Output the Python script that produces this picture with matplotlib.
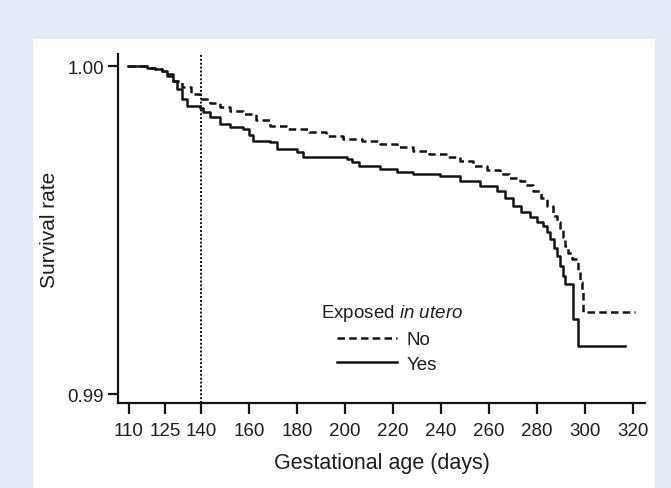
import matplotlib
matplotlib.use("Agg")
import matplotlib.pyplot as plt
from matplotlib.patches import Rectangle
from matplotlib.lines import Line2D

plt.rcParams['font.family'] = ['Liberation Sans', 'DejaVu Sans']
plt.rcParams['mathtext.fontset'] = 'custom'
plt.rcParams['mathtext.rm'] = 'Liberation Sans'
plt.rcParams['mathtext.it'] = 'Liberation Sans:italic'

# ---- data ----
days_yes = [109.6, 117.4, 121, 123.7, 126, 128.3, 130, 132, 134, 139.6, 141, 143.8,
            147.9, 152, 157.6, 160, 161.8, 168.75, 171.5, 179.9, 182.6, 200.7, 203,
            206, 214.6, 221.5, 228.5, 239.6, 247.9, 256.25, 263.2, 266.5, 270.1,
            273.5, 277.1, 280, 282.6, 284, 285.4, 287, 288.2, 289.5, 291, 291.7,
            295.1, 297.2, 316.7]
surv_yes = [1.0, 0.99994, 0.99990, 0.99986, 0.99975, 0.99955, 0.99930, 0.99900,
            0.99879, 0.99871, 0.99860, 0.99844, 0.99823, 0.99815, 0.99808, 0.99790,
            0.99772, 0.99767, 0.99747, 0.99737, 0.99722, 0.99716, 0.99706, 0.99696,
            0.99686, 0.99676, 0.99671, 0.99666, 0.99650, 0.99635, 0.99620, 0.99598,
            0.99574, 0.99556, 0.99539, 0.99525, 0.99513, 0.99495, 0.99473, 0.99445,
            0.99421, 0.99390, 0.99360, 0.99335, 0.99229, 0.99145, 0.99145]

days_no = [109.6, 117.4, 121, 123.7, 126, 128.3, 132, 136, 139.6, 143.8, 148, 152,
           157.6, 163, 168.75, 176, 185, 192, 199, 207, 214.6, 221.5, 228.5, 235,
           242.4, 248, 253.5, 259, 264.6, 268.5, 272.9, 275.5, 278.5, 281.5, 284,
           286.8, 288.2, 289.6, 290.7, 291.7, 293, 294.5, 296.5, 297.2, 298, 298.6,
           299.3, 320.8]
surv_no = [1.0, 0.99994, 0.99990, 0.99986, 0.99970, 0.99955, 0.99935, 0.99915,
           0.99899, 0.99886, 0.99874, 0.99864, 0.99854, 0.99836, 0.99818, 0.99808,
           0.99798, 0.99787, 0.99777, 0.99770, 0.99762, 0.99752, 0.99742, 0.99732,
           0.99722, 0.99710, 0.99696, 0.99684, 0.99671, 0.99660, 0.99650, 0.99636,
           0.99620, 0.99598, 0.99574, 0.99544, 0.99523, 0.99503, 0.99478, 0.99452,
           0.99430, 0.99412, 0.99406, 0.99371, 0.99340, 0.99310, 0.99249, 0.99249]

x_ticks = [110, 125, 140, 160, 180, 200, 220, 240, 260, 280, 300, 320]
y_ticks = [0.99, 1.00]
y_ticklabels = ['0.99', '1.00']
cutoff_day = 140

W, H = 671, 489
fig = plt.figure(figsize=(W / 100, H / 100), dpi=100)
fig.patch.set_facecolor('#e4eaf6')

bg = fig.add_axes([0, 0, 1, 1], zorder=-5)
bg.set_axis_off()
bg.set_xlim(0, 1)
bg.set_ylim(0, 1)
bg.add_patch(Rectangle((33 / W, 0), (655 - 33) / W, (H - 40) / H,
                       facecolor='white', edgecolor='none'))

ax = fig.add_axes([118 / W, (H - 404) / H, (645 - 118) / W, (404 - 55) / H], zorder=1)
ax.set_facecolor('none')

ink = '#141414'
txt = '#1e1e1e'
ax.step(days_no, surv_no, where='post', color=ink, lw=1.8, dashes=(3.0, 1.7))
ax.step(days_yes, surv_yes, where='post', color=ink, lw=1.8)
ax.axvline(cutoff_day, color=ink, lw=1.4, linestyle=(0, (1, 1)))

ax.set_xlim(105.42, 325.0)
ax.set_ylim(0.989726, 1.000366)

for s in ['top', 'right']:
    ax.spines[s].set_visible(False)
for s in ['left', 'bottom']:
    ax.spines[s].set_linewidth(1.6)
    ax.spines[s].set_color(ink)

ax.set_xticks(x_ticks)
ax.set_xticklabels([str(t) for t in x_ticks])
ax.set_yticks(y_ticks)
ax.set_yticklabels(y_ticklabels)
ax.tick_params(axis='x', length=8, width=1.6, color=ink, labelsize=13.5,
               labelcolor=txt, pad=6)
ax.tick_params(axis='y', length=7, width=1.6, color=ink, labelsize=13.5,
               labelcolor=txt, pad=3)

ax.set_xlabel('Gestational age (days)', fontsize=15.5, color=txt, labelpad=9)
ax.set_ylabel('Survival rate', fontsize=15, color=txt, labelpad=6)

handles = [Line2D([], [], color=ink, lw=1.8, dashes=(3.0, 1.7)),
           Line2D([], [], color=ink, lw=1.8)]
leg = ax.legend(handles, ['No', 'Yes'], loc='upper left',
                bbox_to_anchor=(337 / W, 1 - 332 / H), bbox_transform=fig.transFigure,
                frameon=False, fontsize=13.5, handlelength=3.2, handletextpad=0.5,
                labelspacing=0.4, borderpad=0, borderaxespad=0)
for t in leg.get_texts():
    t.set_color(txt)
fig.text(321 / W, 1 - 314 / H, 'Exposed $\\mathit{in\\ utero}$', fontsize=13.5,
         color=txt, va='center', ha='left')

fig.savefig('out.png', dpi=100, facecolor=fig.get_facecolor())
